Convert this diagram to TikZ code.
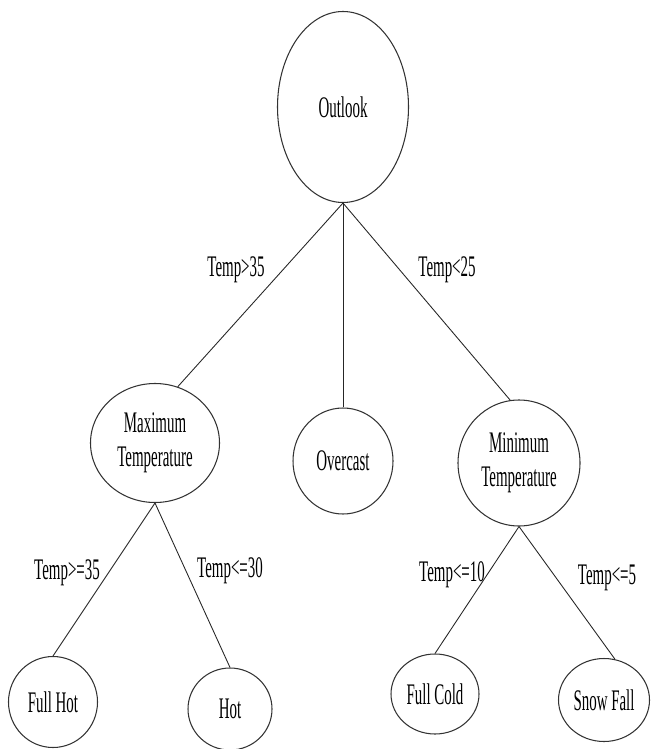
\documentclass[tikz,border=0pt]{standalone}
\usepackage{fontspec}
\setmainfont[FakeStretch=0.5]{Liberation Serif}
\usepackage{tikz}
\usetikzlibrary{shapes.geometric}
\tikzset{
	oval/.style={draw=black!80, line width=0.6pt, ellipse, inner sep=0pt, align=center,
		font=\fontsize{17}{19.5}\selectfont},
	cond/.style={inner sep=0pt, font=\fontsize{17}{19.5}\selectfont},
	branch/.style={line width=0.5pt, color=black!85}
}

\begin{document}
\begin{tikzpicture}[x=0.2mm, y=-0.2mm]
		%%%%% START %%%%%
		\useasboundingbox (0, 0) rectangle (650, 749);
		
		\node[oval, minimum width=26.2mm, minimum height=38.2mm] (outlook) at (343, 107) {Outlook};
		
		\node[oval, minimum width=25.8mm, minimum height=23.8mm] (maxt) at (155, 443) {Maximum\\Temperature};
		\node[oval, minimum width=20mm, minimum height=21.2mm] (overcast) at (343, 461) {Overcast};
		\node[oval, minimum width=24.4mm, minimum height=25.2mm] (mint) at (519, 463) {Minimum\\Temperature};
		
		\node[oval, minimum width=17.8mm, minimum height=18.2mm] (fullhot) at (53, 702) {Full Hot};
		\node[oval, minimum width=16.8mm, minimum height=16.4mm] (hot) at (230, 709) {Hot};
		\node[oval, minimum width=17.6mm, minimum height=16mm] (fullcold) at (435, 694) {Full Cold};
		\node[oval, minimum width=18.2mm, minimum height=16.6mm] (snowfall) at (604, 700) {Snow Fall};
		
		\draw[branch] (outlook.south) -- (maxt.68);
		\draw[branch] (outlook.south) -- (overcast.north);
		\draw[branch] (outlook.south) -- (mint.98);
		
		\draw[branch] (maxt.south) -- (fullhot.north);
		\draw[branch] (maxt.south) -- (hot.north);
		\draw[branch] (mint.south) -- (fullcold.north);
		\draw[branch] (mint.south) -- (snowfall.75);
		
		\node[cond] (c1) at (236, 270) {Temp>35};
		\node[cond] (c2) at (447, 270) {Temp<25};
		\node[cond] (c3) at (67, 573) {Temp>=35};
		\node[cond] (c4) at (230, 571) {Temp<=30};
		\node[cond] (c5) at (452, 575) {Temp<=10};
		\node[cond] (c6) at (607, 578) {Temp<=5};
		
		%%%%% END %%%%%
	\end{tikzpicture}
\end{document}
